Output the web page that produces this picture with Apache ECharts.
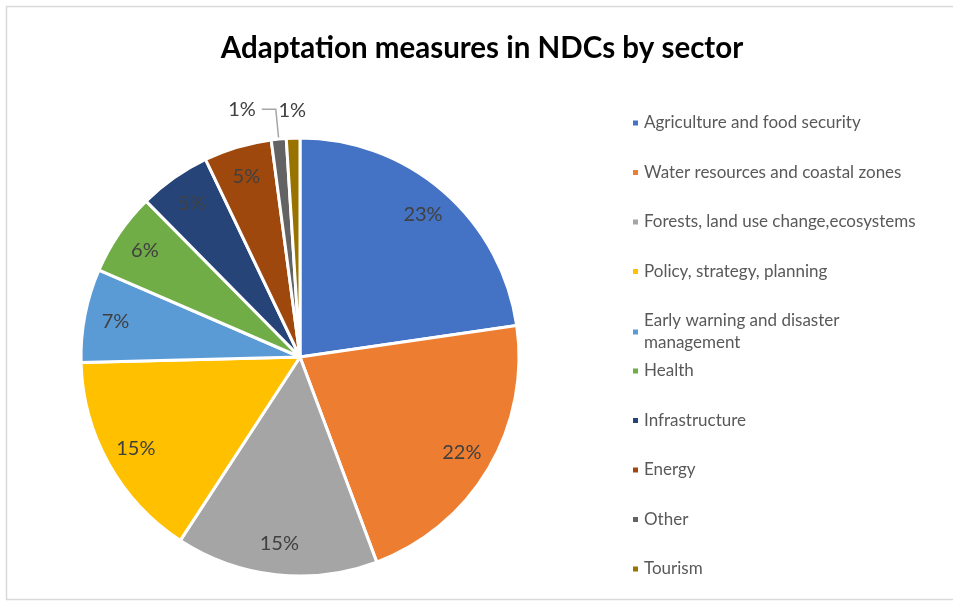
<!DOCTYPE html>
<html>
<head>
<meta charset="utf-8">
<script src="https://cdn.jsdelivr.net/npm/echarts@6/dist/echarts.min.js"></script>
<style>
html,body{margin:0;padding:0;background:#fff;}
#chart{width:953px;height:604px;}
</style>
</head>
<body>
<div id="chart"></div>
<script>
const categories = [
  'Agriculture and food security',
  'Water resources and coastal zones',
  'Forests, land use change,ecosystems',
  'Policy, strategy, planning',
  'Early warning and disaster management',
  'Health',
  'Infrastructure',
  'Energy',
  'Other',
  'Tourism'
];
const shares = [22.7, 21.6, 14.9, 15.4, 6.9, 6.1, 5.3, 5.0, 1.1, 1.0];
const colors = ['#4472C4', '#ED7D31', '#A5A5A5', '#FFC000', '#5B9BD5', '#70AD47', '#264478', '#9E480E', '#636363', '#997300'];
const outsideWithLine = ['Other'];
const outsideAbove = ['Tourism'];

const FONT = 'Lato, "Noto Sans", sans-serif';
const pctFmt = p => Math.round(p.percent) + '%';
const labelStyle = { color: '#404040', fontSize: 20, fontFamily: FONT, formatter: pctFmt };

const center = [300, 357];
const R = 219;

const mainData = categories.map((n, i) => {
  const item = { name: n, value: shares[i], itemStyle: { color: colors[i] } };
  if (outsideWithLine.includes(n)) {
    item.label = Object.assign({ show: true, position: 'outside', distanceToLabelLine: 6 }, labelStyle);
    item.labelLine = { show: true, length: 30, length2: 14, smooth: false, lineStyle: { color: '#A6A6A6', width: 1.5 } };
  }
  return item;
});
const innerData = categories.map((n, i) => ({
  name: n, value: shares[i],
  label: { show: !(outsideWithLine.includes(n) || outsideAbove.includes(n)) }
}));
const aboveData = categories.map((n, i) => ({
  name: n, value: shares[i],
  label: { show: outsideAbove.includes(n) }
}));

const helperBase = {
  type: 'pie', center: center, startAngle: 90, clockwise: true,
  silent: true, legendHoverLink: false, avoidLabelOverlap: false,
  itemStyle: { color: 'rgba(0,0,0,0)', borderWidth: 0 },
  emphasis: { disabled: true },
  labelLine: { show: false },
  tooltip: { show: false }
};

const legendText = { color: '#595959', fontSize: 17, fontFamily: FONT, lineHeight: 22 };

const chart = echarts.init(document.getElementById('chart'), null, { renderer: 'canvas' });
chart.setOption({
  backgroundColor: '#ffffff',
  animation: false,
  title: {
    text: 'Adaptation measures in NDCs by sector',
    left: 477, top: 28, textAlign: 'center',
    textStyle: { fontFamily: FONT, fontWeight: 'bold', fontSize: 29.5, color: '#000000' }
  },
  graphic: [{
    type: 'rect', silent: true, z: -10,
    shape: { x: 6.5, y: 6.5, width: 980, height: 593 },
    style: { fill: 'none', stroke: '#D9D9D9', lineWidth: 1.5 }
  }],
  legend: [{
    orient: 'vertical', left: 626, top: 107,
    icon: 'rect', itemWidth: 7, itemHeight: 7, itemGap: 27.5,
    data: categories.slice(0, 5),
    formatter: n => n === 'Early warning and disaster management' ? 'Early warning and disaster\nmanagement' : n,
    textStyle: legendText
  }, {
    orient: 'vertical', left: 626, top: 355,
    icon: 'rect', itemWidth: 7, itemHeight: 7, itemGap: 27.5,
    data: categories.slice(5),
    textStyle: legendText
  }],
  series: [
    {
      name: 'main', type: 'pie', center: center, radius: [0, R],
      startAngle: 90, clockwise: true, avoidLabelOverlap: false,
      itemStyle: { borderColor: '#ffffff', borderWidth: 3 },
      label: { show: false },
      labelLine: { show: false },
      emphasis: { disabled: true },
      data: mainData
    },
    Object.assign({}, helperBase, {
      name: 'labels', radius: [151, R],
      label: Object.assign({ position: 'inside' }, labelStyle),
      data: innerData
    }),
    Object.assign({}, helperBase, {
      name: 'labelsAbove', radius: [226, 262],
      label: Object.assign({ position: 'inside' }, labelStyle),
      data: aboveData
    })
  ]
});
</script>
</body>
</html>
